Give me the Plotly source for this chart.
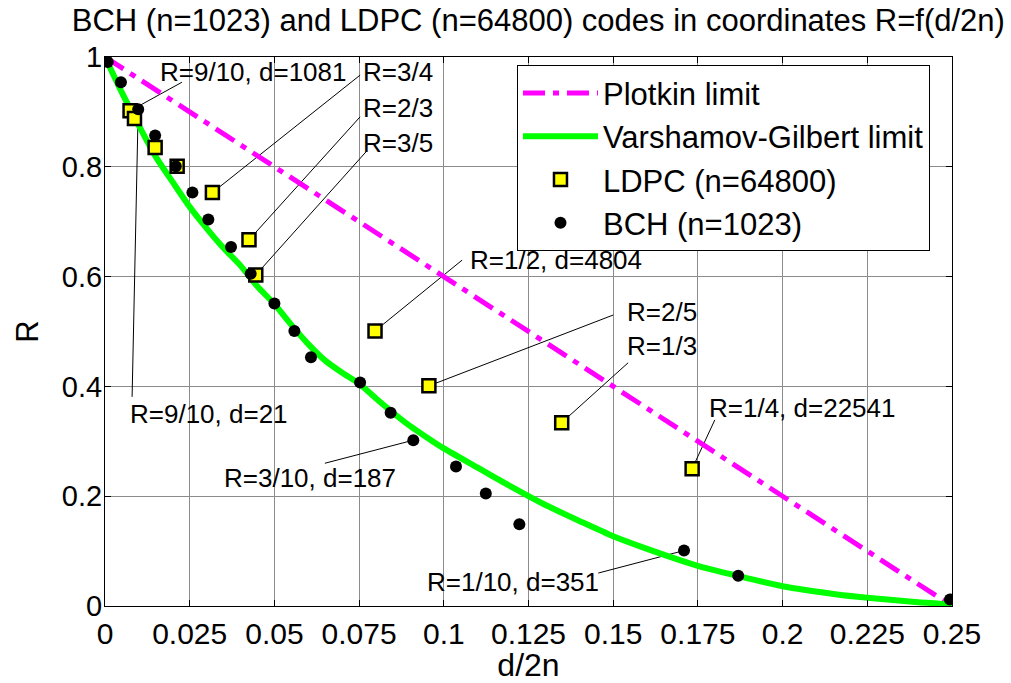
import plotly.graph_objects as go

# ---- data ----
plotkin_x = [0.0, 0.25]
plotkin_y = [1.0, 0.0]

vg_x = [0.0, 0.005, 0.01, 0.015, 0.02, 0.025, 0.03, 0.035, 0.04, 0.045, 0.05,
        0.055, 0.06, 0.065, 0.07, 0.075, 0.08, 0.085, 0.09, 0.095, 0.1,
        0.11, 0.12, 0.13, 0.14, 0.15, 0.16, 0.175, 0.19, 0.2, 0.215, 0.225, 0.24, 0.25]
vg_y = [1.0, 0.935, 0.875, 0.818, 0.772, 0.727, 0.688, 0.652, 0.620, 0.582, 0.550,
        0.512, 0.477, 0.447, 0.425, 0.405, 0.378, 0.352, 0.328, 0.307, 0.287,
        0.252, 0.217, 0.184, 0.155, 0.127, 0.104, 0.073, 0.050, 0.036, 0.022, 0.015, 0.007, 0.003]

ldpc_x = [0.0074, 0.0087, 0.0148, 0.0213, 0.0317, 0.0425, 0.0445, 0.0797, 0.0956, 0.1348, 0.1733]
ldpc_y = [0.902, 0.888, 0.835, 0.801, 0.753, 0.667, 0.603, 0.501, 0.401, 0.334, 0.250]

bch_x = [0.0008, 0.0047, 0.0098, 0.0148, 0.0209, 0.0258, 0.0305, 0.0372, 0.0430, 0.0500,
         0.0559, 0.0608, 0.0753, 0.0843, 0.0910, 0.1036, 0.1124, 0.1223, 0.1709, 0.1869, 0.2494]
bch_y = [0.991, 0.954, 0.905, 0.857, 0.801, 0.753, 0.704, 0.654, 0.605, 0.551,
         0.501, 0.453, 0.407, 0.352, 0.302, 0.254, 0.205, 0.149, 0.101, 0.055, 0.012]

x_ticks = [0, 0.025, 0.05, 0.075, 0.1, 0.125, 0.15, 0.175, 0.2, 0.225, 0.25]
x_ticklabels = ["0", "0.025", "0.05", "0.075", "0.1", "0.125", "0.15", "0.175", "0.2", "0.225", "0.25"]
y_ticks = [0, 0.2, 0.4, 0.6, 0.8, 1.0]
y_ticklabels = ["0", "0.2", "0.4", "0.6", "0.8", "1"]

# label texts, which series/index they point to, label anchor and leader-line start (data coords)
labels = [
    ("R=9/10, d=1081", "ldpc", 0, 0.0156, 0.973, 0.0227, 0.954),
    ("R=3/4", "ldpc", 4, 0.0757, 0.972, 0.0753, 0.967),
    ("R=2/3", "ldpc", 5, 0.0757, 0.907, 0.0753, 0.891),
    ("R=3/5", "ldpc", 6, 0.0757, 0.843, 0.0770, 0.827),
    ("R=9/10, d=21", "bch", 2, 0.0068, 0.350, 0.0080, 0.381),
    ("R=3/10, d=187", "bch", 14, 0.0345, 0.233, 0.0649, 0.260),
    ("R=1/2, d=4804", "ldpc", 7, 0.1071, 0.630, 0.1054, 0.630),
    ("R=2/5", "ldpc", 8, 0.1535, 0.536, 0.1500, 0.530),
    ("R=1/3", "ldpc", 9, 0.1535, 0.474, 0.1544, 0.443),
    ("R=1/4, d=22541", "ldpc", 10, 0.1778, 0.361, 0.1800, 0.339),
    ("R=1/10, d=351", "bch", 18, 0.0944, 0.044, 0.1456, 0.060),
]

FONT = "Liberation Sans, Arial, sans-serif"

fig = go.Figure()
fig.add_trace(go.Scatter(x=plotkin_x, y=plotkin_y, mode="lines", name="Plotkin limit",
                         legendgroup="a",
                         line=dict(color="#FF00FF", width=5, dash="22px,8px,6px,8px")))
fig.add_trace(go.Scatter(x=vg_x, y=vg_y, mode="lines", name="Varshamov-Gilbert limit",
                         legendgroup="b",
                         line=dict(color="#00FF00", width=6, shape="spline", smoothing=0.6)))
fig.add_trace(go.Scatter(x=ldpc_x, y=ldpc_y, mode="markers", name="LDPC (n=64800)",
                         legendgroup="c",
                         marker=dict(symbol="square", size=13, color="#FFFF00",
                                     line=dict(color="black", width=2.5))))
fig.add_trace(go.Scatter(x=bch_x, y=bch_y, mode="markers", name="BCH (n=1023)",
                         legendgroup="d",
                         marker=dict(symbol="circle", size=12, color="black",
                                     line=dict(color="black", width=0))))

series = {"ldpc": (ldpc_x, ldpc_y), "bch": (bch_x, bch_y)}
shapes = []
annotations = []
for text, s, i, tx, ty, lx, ly in labels:
    px, py = series[s][0][i], series[s][1][i]
    shapes.append(dict(type="line", xref="x", yref="y", x0=lx, y0=ly, x1=px, y1=py,
                       line=dict(color="black", width=1), layer="between"))
    annotations.append(dict(x=tx, y=ty, xref="x", yref="y", text=text, showarrow=False,
                            xanchor="left", yanchor="middle",
                            font=dict(family=FONT, size=26, color="black")))

fig.update_layout(
    width=1011, height=683,
    margin=dict(l=105, r=59, t=57, b=77, autoexpand=False),
    paper_bgcolor="white", plot_bgcolor="white",
    font=dict(family=FONT, size=30, color="black"),
    title=dict(text="BCH (n=1023) and LDPC (n=64800) codes in coordinates R=f(d/2n)",
               x=0.994, xanchor="right", y=0.971, yanchor="middle",
               xref="container", yref="container",
               font=dict(family=FONT, size=31, color="black")),
    xaxis=dict(range=[0, 0.25], tickvals=x_ticks, ticktext=x_ticklabels,
               showgrid=True, gridcolor="#8c8c8c", gridwidth=1,
               showline=True, linecolor="black", linewidth=1, mirror="allticks",
               ticks="inside", ticklen=6, tickcolor="black", zeroline=False,
               tickfont=dict(size=30), automargin=False, ticklabelstandoff=1,
               title=dict(text="d/2n", font=dict(size=32), standoff=2)),
    yaxis=dict(range=[0, 1], tickvals=y_ticks, ticktext=y_ticklabels,
               showgrid=True, gridcolor="#8c8c8c", gridwidth=1,
               showline=True, linecolor="black", linewidth=1, mirror="allticks",
               ticks="inside", ticklen=6, tickcolor="black", zeroline=False,
               tickfont=dict(size=29), ticklabelstandoff=-4, automargin=False,
               title=dict(text="R", font=dict(size=31), standoff=14)),
    legend=dict(x=0.4864, y=0.985, xanchor="left", yanchor="top",
                bgcolor="white", bordercolor="black", borderwidth=1,
                font=dict(family=FONT, size=31, color="black"),
                tracegroupgap=0, itemwidth=75),
    shapes=shapes,
    annotations=annotations,
)

fig.write_html("out.html")
